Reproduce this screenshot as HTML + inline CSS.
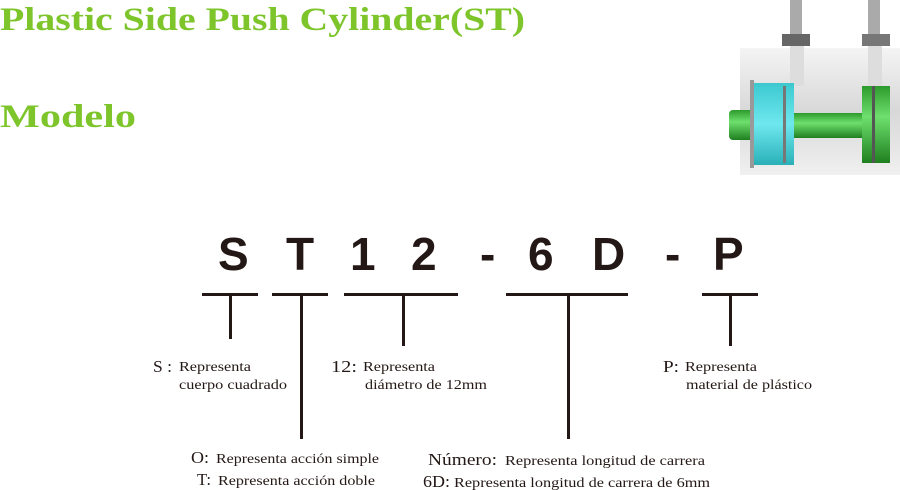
<!DOCTYPE html>
<html><head><meta charset="utf-8"><style>
body{margin:0;background:#fff;width:900px;height:490px;overflow:hidden}
svg{display:block}
.t{font-family:"Liberation Serif",serif;font-weight:bold;fill:#7dc52b}
.c{font-family:"Liberation Sans",sans-serif;font-weight:bold;font-size:46px;fill:#231815}
.b{font-family:"Liberation Serif",serif;font-size:17px;fill:#231815}
.s{font-family:"Liberation Serif",serif;font-size:14px;fill:#231815}
</style></head><body>
<svg width="900" height="490" viewBox="0 0 900 490">
<text class="t" x="0" y="30" font-size="33" textLength="525" lengthAdjust="spacingAndGlyphs">Plastic Side Push Cylinder(ST)</text>
<text class="t" x="0" y="127" font-size="33" textLength="136" lengthAdjust="spacingAndGlyphs">Modelo</text>
<defs>
<linearGradient id="gr" x1="0" y1="0" x2="0" y2="1"><stop offset="0" stop-color="#f4f4f4"/><stop offset=".5" stop-color="#d8d8d8"/><stop offset="1" stop-color="#f0f0f0"/></linearGradient>
<linearGradient id="gg" x1="0" y1="0" x2="0" y2="1"><stop offset="0" stop-color="#2c9a2c"/><stop offset=".4" stop-color="#6ee06e"/><stop offset="1" stop-color="#1f7f1f"/></linearGradient>
<linearGradient id="gc" x1="0" y1="0" x2="0" y2="1"><stop offset="0" stop-color="#3cc8d0"/><stop offset=".5" stop-color="#6ee8ee"/><stop offset="1" stop-color="#2ab0b8"/></linearGradient>
</defs>
<rect x="740" y="48" width="160" height="127" fill="url(#gr)"/>
<rect x="790" y="0" width="12" height="36" fill="#aaa"/>
<rect x="868" y="0" width="12" height="36" fill="#aaa"/>
<rect x="782" y="34" width="28" height="12" fill="#666"/>
<rect x="862" y="34" width="28" height="12" fill="#777"/>
<rect x="790" y="46" width="14" height="40" fill="#ddd"/>
<rect x="868" y="46" width="14" height="40" fill="#ddd"/>
<rect x="729" y="110" width="25" height="30" rx="4" fill="url(#gg)"/>
<rect x="750" y="113" width="120" height="25" fill="url(#gg)"/>
<rect x="752" y="83" width="42" height="82" fill="url(#gc)"/>
<rect x="750" y="80" width="4" height="88" fill="#999"/>
<rect x="783" y="86" width="3" height="77" fill="#777"/>
<rect x="862" y="86" width="28" height="77" fill="url(#gg)"/>
<rect x="872" y="86" width="3" height="77" fill="#555"/>
<text class="c" x="218" y="270">S</text>
<text class="c" x="286" y="270">T</text>
<text class="c" x="350" y="270">1</text>
<text class="c" x="411" y="270">2</text>
<text class="c" x="480" y="270">-</text>
<text class="c" x="528" y="270">6</text>
<text class="c" x="592" y="270">D</text>
<text class="c" x="665" y="270">-</text>
<text class="c" x="713" y="270">P</text>
<g fill="#231815">
<rect x="202" y="293" width="56" height="3"/><rect x="229" y="293" width="3" height="46"/>
<rect x="272" y="293" width="56" height="3"/><rect x="300" y="293" width="3" height="146"/>
<rect x="344" y="293" width="114" height="3"/><rect x="402" y="293" width="3" height="53"/>
<rect x="506" y="293" width="122" height="3"/><rect x="567" y="293" width="3" height="146"/>
<rect x="702" y="293" width="56" height="3"/><rect x="729" y="293" width="3" height="53"/>
</g>
<text class="b" x="153" y="372" textLength="19" lengthAdjust="spacingAndGlyphs">S :</text>
<text class="s" x="179" y="371" textLength="72" lengthAdjust="spacingAndGlyphs">Representa</text>
<text class="s" x="179" y="389" textLength="108" lengthAdjust="spacingAndGlyphs">cuerpo cuadrado</text>
<text class="b" x="331" y="372" textLength="26" lengthAdjust="spacingAndGlyphs">12:</text>
<text class="s" x="363" y="371" textLength="72" lengthAdjust="spacingAndGlyphs">Representa</text>
<text class="s" x="365" y="389" textLength="122" lengthAdjust="spacingAndGlyphs">diámetro de 12mm</text>
<text class="b" x="663" y="372" textLength="16" lengthAdjust="spacingAndGlyphs">P:</text>
<text class="s" x="685" y="371" textLength="72" lengthAdjust="spacingAndGlyphs">Representa</text>
<text class="s" x="686" y="389" textLength="126" lengthAdjust="spacingAndGlyphs">material de plástico</text>
<text class="b" x="191" y="463" textLength="18" lengthAdjust="spacingAndGlyphs">O:</text>
<text class="s" x="216" y="463" textLength="163" lengthAdjust="spacingAndGlyphs">Representa acción simple</text>
<text class="b" x="197" y="485" textLength="14" lengthAdjust="spacingAndGlyphs">T:</text>
<text class="s" x="218" y="485" textLength="157" lengthAdjust="spacingAndGlyphs">Representa acción doble</text>
<text class="b" x="428" y="465" textLength="69" lengthAdjust="spacingAndGlyphs">Número:</text>
<text class="s" x="505" y="465" textLength="200" lengthAdjust="spacingAndGlyphs">Representa longitud de carrera</text>
<text class="b" x="423" y="487" textLength="27" lengthAdjust="spacingAndGlyphs">6D:</text>
<text class="s" x="454" y="487" textLength="256" lengthAdjust="spacingAndGlyphs">Representa longitud de carrera de 6mm</text>
</svg>
</body></html>
